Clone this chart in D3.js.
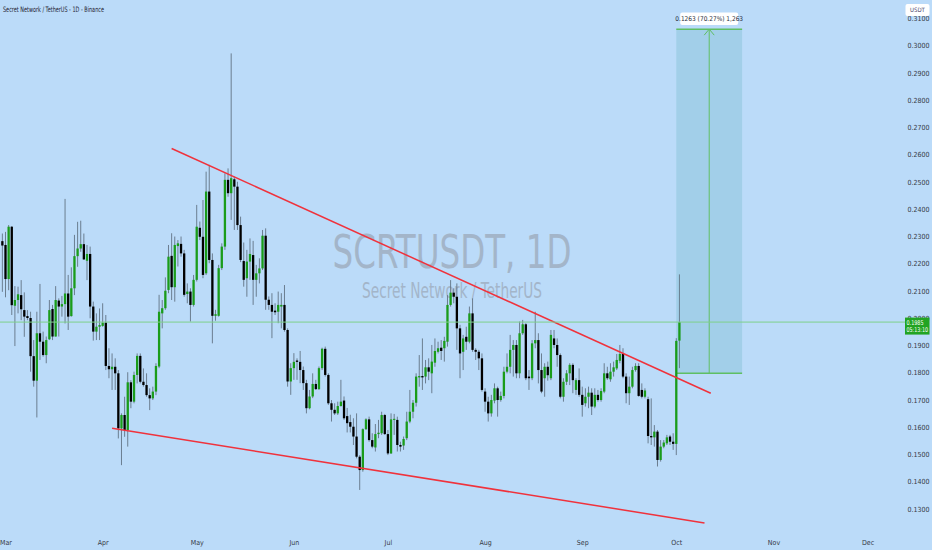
<!DOCTYPE html>
<html>
<head>
<meta charset="utf-8">
<script src="https://cdn.jsdelivr.net/npm/d3@7"></script>
<style>
  body { margin: 0; background: #bbdbf9; }
  svg { display: block; font-family: "Liberation Sans Narrow", "DejaVu Sans Condensed", "Liberation Sans", sans-serif; }
</style>
</head>
<body>
<svg id="chart" width="932" height="550"></svg>
<script>
// daily candles, first one is Feb 28
const firstDay = "2025-02-28";

const opens = [
  0.2282, 0.2268, 0.2143, 0.2335, 0.2045, 0.2066, 0.2084, 0.2029, 0.2007, 0.2000,
  0.1860, 0.1770, 0.1944, 0.1913, 0.1864, 0.1922, 0.2033, 0.1932, 0.2064, 0.2042,
  0.2051, 0.2090, 0.2007, 0.2109, 0.2227, 0.2255, 0.2271, 0.2210, 0.2235, 0.2042,
  0.1950, 0.1968, 0.1971, 0.1983, 0.1824, 0.1812, 0.1821, 0.1797, 0.1595, 0.1644,
  0.1589, 0.1764, 0.1693, 0.1791, 0.1861, 0.1766, 0.1754, 0.1717, 0.1705, 0.1730,
  0.1822, 0.2017, 0.2036, 0.2103, 0.2228, 0.2113, 0.2264, 0.2272, 0.2237, 0.2088,
  0.2097, 0.2048, 0.2140, 0.2331, 0.2298, 0.2164, 0.2464, 0.2213, 0.2008, 0.2008,
  0.2183, 0.2262, 0.2507, 0.2458, 0.2509, 0.2482, 0.2341, 0.2209, 0.2146, 0.2207,
  0.2231, 0.2140, 0.2164, 0.2182, 0.2302, 0.2067, 0.2048, 0.2027, 0.2023, 0.2042,
  0.2048, 0.1956, 0.1767, 0.1816, 0.1844, 0.1839, 0.1809, 0.1761, 0.1669, 0.1712,
  0.1758, 0.1739, 0.1816, 0.1887, 0.1791, 0.1687, 0.1663, 0.1650, 0.1677, 0.1697,
  0.1640, 0.1618, 0.1601, 0.1565, 0.1491, 0.1442, 0.1592, 0.1628, 0.1552, 0.1525,
  0.1574, 0.1577, 0.1644, 0.1574, 0.1503, 0.1626, 0.1626, 0.1534, 0.1532, 0.1559,
  0.1620, 0.1656, 0.1689, 0.1782, 0.1787, 0.1785, 0.1819, 0.1797, 0.1836, 0.1876,
  0.1891, 0.1889, 0.1913, 0.2048, 0.2093, 0.2078, 0.1962, 0.1876, 0.1931, 0.1913,
  0.2017, 0.1883, 0.1876, 0.1852, 0.1730, 0.1693, 0.1650, 0.1697, 0.1742, 0.1699,
  0.1714, 0.1803, 0.1821, 0.1883, 0.1901, 0.1797, 0.1944, 0.1977, 0.1785, 0.1779,
  0.1907, 0.1919, 0.1809, 0.1779, 0.1821, 0.1779, 0.1925, 0.1901, 0.1864, 0.1711,
  0.1766, 0.1797, 0.1828, 0.1736, 0.1772, 0.1718, 0.1687, 0.1711, 0.1726, 0.1675,
  0.1718, 0.1699, 0.1730, 0.1797, 0.1775, 0.1803, 0.1815, 0.1843, 0.1868, 0.1785,
  0.1724, 0.1748, 0.1809, 0.1824, 0.1736, 0.1711, 0.1702, 0.1567, 0.1562, 0.1583,
  0.1479, 0.1528, 0.1540, 0.1565, 0.1546, 0.1538, 0.1917
];
const highs = [
  0.2310, 0.2316, 0.2341, 0.2337, 0.2117, 0.2115, 0.2139, 0.2094, 0.2029, 0.2023,
  0.1919, 0.2023, 0.2125, 0.1950, 0.1932, 0.2066, 0.2048, 0.2117, 0.2072, 0.2081,
  0.2437, 0.2158, 0.2186, 0.2305, 0.2353, 0.2357, 0.2310, 0.2268, 0.2262, 0.2060,
  0.2017, 0.2035, 0.2054, 0.2011, 0.1889, 0.1870, 0.1852, 0.1809, 0.1650, 0.1711,
  0.1801, 0.1772, 0.1803, 0.1870, 0.1870, 0.1815, 0.1797, 0.1742, 0.1748, 0.1834,
  0.2085, 0.2066, 0.2149, 0.2268, 0.2311, 0.2299, 0.2286, 0.2299, 0.2250, 0.2127,
  0.2109, 0.2158, 0.2415, 0.2354, 0.2433, 0.2537, 0.2562, 0.2237, 0.2030, 0.2195,
  0.2274, 0.2531, 0.2549, 0.2971, 0.2519, 0.2500, 0.2372, 0.2277, 0.2250, 0.2292,
  0.2283, 0.2195, 0.2219, 0.2323, 0.2329, 0.2079, 0.2091, 0.2054, 0.2097, 0.2091,
  0.2121, 0.1962, 0.1834, 0.1871, 0.1852, 0.1879, 0.1822, 0.1773, 0.1736, 0.1797,
  0.1773, 0.1822, 0.1891, 0.1895, 0.1797, 0.1699, 0.1687, 0.1693, 0.1773, 0.1712,
  0.1670, 0.1645, 0.1632, 0.1650, 0.1497, 0.1595, 0.1632, 0.1638, 0.1577, 0.1611,
  0.1626, 0.1656, 0.1648, 0.1589, 0.1650, 0.1648, 0.1638, 0.1546, 0.1565, 0.1656,
  0.1736, 0.1699, 0.1797, 0.1864, 0.1925, 0.1846, 0.1852, 0.1901, 0.1925, 0.1913,
  0.1919, 0.1931, 0.2084, 0.2139, 0.2109, 0.2127, 0.1975, 0.1938, 0.1968, 0.2042,
  0.2072, 0.1889, 0.1883, 0.1870, 0.1742, 0.1711, 0.1718, 0.1760, 0.1748, 0.1730,
  0.1821, 0.1870, 0.1938, 0.1919, 0.1919, 0.1987, 0.1993, 0.1981, 0.1809, 0.1919,
  0.2023, 0.1944, 0.1870, 0.1834, 0.1840, 0.1956, 0.1956, 0.1925, 0.1870, 0.1779,
  0.1809, 0.1834, 0.1834, 0.1779, 0.1815, 0.1748, 0.1742, 0.1748, 0.1742, 0.1742,
  0.1736, 0.1742, 0.1834, 0.1821, 0.1834, 0.1840, 0.1868, 0.1901, 0.1889, 0.1797,
  0.1785, 0.1821, 0.1834, 0.1834, 0.1760, 0.1742, 0.1711, 0.1705, 0.1607, 0.1589,
  0.1552, 0.1552, 0.1571, 0.1571, 0.1577, 0.1926, 0.2160
];
const lows = [
  0.2096, 0.2076, 0.2102, 0.2011, 0.1897, 0.2017, 0.1992, 0.1931, 0.1992, 0.1803,
  0.1748, 0.1635, 0.1846, 0.1858, 0.1834, 0.1919, 0.1919, 0.1932, 0.1932, 0.2005,
  0.1980, 0.1956, 0.2005, 0.2084, 0.2188, 0.2243, 0.2213, 0.2139, 0.1999, 0.1917,
  0.1919, 0.1919, 0.1968, 0.1809, 0.1779, 0.1736, 0.1736, 0.1558, 0.1460, 0.1564,
  0.1528, 0.1669, 0.1687, 0.1760, 0.1760, 0.1748, 0.1711, 0.1662, 0.1699, 0.1717,
  0.1816, 0.1962, 0.2030, 0.2091, 0.2066, 0.2060, 0.2189, 0.2225, 0.2078, 0.2054,
  0.1987, 0.2042, 0.2134, 0.2286, 0.2146, 0.2158, 0.2201, 0.1907, 0.1990, 0.2005,
  0.2176, 0.2250, 0.2445, 0.2360, 0.2323, 0.2323, 0.2205, 0.2115, 0.2078, 0.2140,
  0.2048, 0.2078, 0.2127, 0.2176, 0.2030, 0.2030, 0.1926, 0.2011, 0.1981, 0.1962,
  0.1950, 0.1748, 0.1718, 0.1773, 0.1773, 0.1761, 0.1736, 0.1650, 0.1665, 0.1706,
  0.1736, 0.1736, 0.1809, 0.1785, 0.1681, 0.1620, 0.1644, 0.1644, 0.1675, 0.1626,
  0.1580, 0.1580, 0.1534, 0.1485, 0.1369, 0.1436, 0.1589, 0.1546, 0.1522, 0.1510,
  0.1559, 0.1571, 0.1571, 0.1497, 0.1501, 0.1571, 0.1510, 0.1510, 0.1516, 0.1552,
  0.1614, 0.1632, 0.1675, 0.1748, 0.1736, 0.1760, 0.1772, 0.1724, 0.1821, 0.1870,
  0.1846, 0.1840, 0.1895, 0.2042, 0.2054, 0.1883, 0.1779, 0.1809, 0.1883, 0.1907,
  0.1876, 0.1846, 0.1809, 0.1730, 0.1656, 0.1620, 0.1638, 0.1687, 0.1638, 0.1693,
  0.1705, 0.1797, 0.1797, 0.1785, 0.1779, 0.1779, 0.1938, 0.1772, 0.1736, 0.1772,
  0.1889, 0.1760, 0.1724, 0.1711, 0.1770, 0.1772, 0.1889, 0.1821, 0.1705, 0.1693,
  0.1754, 0.1754, 0.1724, 0.1718, 0.1711, 0.1638, 0.1675, 0.1669, 0.1644, 0.1669,
  0.1693, 0.1693, 0.1724, 0.1773, 0.1766, 0.1785, 0.1809, 0.1834, 0.1779, 0.1687,
  0.1681, 0.1742, 0.1803, 0.1711, 0.1705, 0.1705, 0.1540, 0.1534, 0.1528, 0.1455,
  0.1473, 0.1522, 0.1534, 0.1534, 0.1516, 0.1497, 0.1816
];
const closes = [
  0.2266, 0.2143, 0.2335, 0.2047, 0.2066, 0.2087, 0.2032, 0.2005, 0.2000, 0.1860,
  0.1770, 0.1944, 0.1913, 0.1864, 0.1919, 0.2029, 0.1932, 0.2066, 0.2042, 0.2051,
  0.2090, 0.2005, 0.2109, 0.2227, 0.2255, 0.2271, 0.2215, 0.2235, 0.2042, 0.1950,
  0.1968, 0.1974, 0.1983, 0.1824, 0.1812, 0.1821, 0.1797, 0.1595, 0.1644, 0.1589,
  0.1764, 0.1693, 0.1791, 0.1861, 0.1766, 0.1754, 0.1717, 0.1705, 0.1730, 0.1824,
  0.2023, 0.2036, 0.2100, 0.2225, 0.2113, 0.2268, 0.2274, 0.2237, 0.2085, 0.2097,
  0.2048, 0.2140, 0.2335, 0.2298, 0.2158, 0.2464, 0.2213, 0.2008, 0.2014, 0.2183,
  0.2262, 0.2507, 0.2458, 0.2513, 0.2482, 0.2341, 0.2213, 0.2140, 0.2207, 0.2235,
  0.2140, 0.2164, 0.2182, 0.2302, 0.2067, 0.2048, 0.2023, 0.2021, 0.2048, 0.2048,
  0.1956, 0.1767, 0.1816, 0.1839, 0.1839, 0.1809, 0.1761, 0.1669, 0.1712, 0.1758,
  0.1739, 0.1816, 0.1887, 0.1791, 0.1687, 0.1663, 0.1650, 0.1677, 0.1693, 0.1632,
  0.1614, 0.1601, 0.1565, 0.1491, 0.1442, 0.1592, 0.1628, 0.1552, 0.1528, 0.1574,
  0.1579, 0.1644, 0.1574, 0.1503, 0.1628, 0.1630, 0.1534, 0.1528, 0.1556, 0.1620,
  0.1656, 0.1689, 0.1785, 0.1787, 0.1782, 0.1819, 0.1803, 0.1840, 0.1879, 0.1889,
  0.1879, 0.1916, 0.2048, 0.2093, 0.2078, 0.1962, 0.1870, 0.1925, 0.1913, 0.2017,
  0.1883, 0.1876, 0.1852, 0.1736, 0.1693, 0.1650, 0.1699, 0.1742, 0.1699, 0.1714,
  0.1803, 0.1821, 0.1883, 0.1901, 0.1797, 0.1944, 0.1977, 0.1779, 0.1779, 0.1907,
  0.1919, 0.1809, 0.1730, 0.1821, 0.1790, 0.1938, 0.1901, 0.1864, 0.1711, 0.1766,
  0.1797, 0.1828, 0.1772, 0.1772, 0.1718, 0.1681, 0.1711, 0.1726, 0.1675, 0.1718,
  0.1699, 0.1732, 0.1797, 0.1779, 0.1803, 0.1819, 0.1846, 0.1868, 0.1785, 0.1724,
  0.1748, 0.1809, 0.1824, 0.1714, 0.1711, 0.1734, 0.1567, 0.1562, 0.1583, 0.1479,
  0.1528, 0.1543, 0.1562, 0.1546, 0.1538, 0.1916, 0.1985
];

const monthTicks = ["2025-03-01", "2025-04-01", "2025-05-01", "2025-06-01", "2025-07-01",
  "2025-08-01", "2025-09-01", "2025-10-01", "2025-11-01", "2025-12-01"];
const priceTicks = [0.13, 0.14, 0.15, 0.16, 0.17, 0.18, 0.19, 0.20, 0.21, 0.22,
  0.23, 0.24, 0.25, 0.26, 0.27, 0.28, 0.29, 0.30, 0.31];

const lastPrice = 0.1985;
const countdown = "05:13:10";

const upperTrendDates = ["2025-04-23", "2025-10-12"];
const upperTrendPrices = [0.2622, 0.1724];
const lowerTrendDates = ["2025-04-04", "2025-10-10"];
const lowerTrendPrices = [0.1595, 0.1248];

const targetDates = ["2025-10-01", "2025-10-22"];
const targetPrices = [0.1797, 0.3060];
const targetLabel = "0.1263 (70.27%) 1,263";

const title = "Secret Network / TetherUS - 1D - Binance";
const symbol = "SCRTUSDT, 1D";
const pairName = "Secret Network / TetherUS";

const parse = d3.utcParse("%Y-%m-%d");
const start = parse(firstDay);

const candles = opens.map((o, i) => ({
  date: d3.utcDay.offset(start, i),
  open: o, high: highs[i], low: lows[i], close: closes[i]
}));

const svg = d3.select("#chart");

const x = d3.scaleUtc()
  .domain([parse("2025-03-01"), parse("2025-12-01")])
  .range([5.5, 867.5]);

const y = d3.scaleLinear()
  .domain([0.13, 0.30])
  .range([508.75, 45.5]);

svg.append("rect")
  .attr("width", 932).attr("height", 550)
  .attr("fill", "#bbdbf9");

// watermark
svg.append("text")
  .attr("x", 452).attr("y", 268)
  .attr("text-anchor", "middle")
  .attr("font-size", 46)
  .attr("textLength", 239).attr("lengthAdjust", "spacingAndGlyphs")
  .attr("fill", "#a3b5c9")
  .text(symbol);

svg.append("text")
  .attr("x", 452).attr("y", 298)
  .attr("text-anchor", "middle")
  .attr("font-size", 21)
  .attr("textLength", 180).attr("lengthAdjust", "spacingAndGlyphs")
  .attr("fill", "#a3b5c9")
  .text(pairName);

// long position box
const bx0 = x(parse(targetDates[0])), bx1 = x(parse(targetDates[1]));
const byTop = y(targetPrices[1]), byBot = y(targetPrices[0]);
const bxMid = (bx0 + bx1) / 2;

svg.append("rect")
  .attr("x", bx0).attr("y", byTop)
  .attr("width", bx1 - bx0).attr("height", byBot - byTop)
  .attr("fill", "#a2cfe9");

[byTop, byBot].forEach(yy => {
  svg.append("line")
    .attr("x1", bx0).attr("x2", bx1)
    .attr("y1", yy).attr("y2", yy)
    .attr("stroke", "#5fbf63").attr("stroke-width", 1.5);
});

svg.append("line")
  .attr("x1", bxMid).attr("x2", bxMid)
  .attr("y1", byBot).attr("y2", byTop)
  .attr("stroke", "#5fbf63").attr("stroke-width", 1);

svg.append("path")
  .attr("d", `M${bxMid - 5},${byTop + 6}L${bxMid},${byTop}L${bxMid + 5},${byTop + 6}`)
  .attr("fill", "none")
  .attr("stroke", "#5fbf63").attr("stroke-width", 1);

svg.append("rect")
  .attr("x", bxMid - 29).attr("y", 12.5)
  .attr("width", 58).attr("height", 12.5)
  .attr("rx", 2)
  .attr("fill", "#ffffff");

svg.append("text")
  .attr("x", bxMid).attr("y", 21.3)
  .attr("text-anchor", "middle")
  .attr("font-size", 6.5)
  .attr("fill", "#2a2e39")
  .text(targetLabel);

// candles
const candleG = svg.append("g");

candleG.selectAll("line")
  .data(candles)
  .join("line")
  .attr("x1", d => x(d.date)).attr("x2", d => x(d.date))
  .attr("y1", d => y(d.high)).attr("y2", d => y(d.low))
  .attr("stroke", "#5d6d7e")
  .attr("stroke-opacity", 0.85)
  .attr("stroke-width", 1);

candleG.selectAll("rect")
  .data(candles)
  .join("rect")
  .attr("x", d => x(d.date) - 1.15)
  .attr("width", 2.3)
  .attr("y", d => y(Math.max(d.open, d.close)))
  .attr("height", d => Math.max(0.8, Math.abs(y(d.open) - y(d.close))))
  .attr("fill", d => d.close >= d.open ? "#1a9c1a" : "#000000");

// trend lines
const trendLine = d3.line()
  .x(d => x(parse(d[0])))
  .y(d => y(d[1]));

[[upperTrendDates, upperTrendPrices], [lowerTrendDates, lowerTrendPrices]].forEach(([ds, ps]) => {
  svg.append("path")
    .datum(d3.zip(ds, ps))
    .attr("fill", "none")
    .attr("stroke", "#f0323c")
    .attr("stroke-width", 1.5)
    .attr("d", trendLine);
});

// last price line
svg.append("line")
  .attr("x1", 0).attr("x2", 905)
  .attr("y1", y(lastPrice)).attr("y2", y(lastPrice))
  .attr("stroke", "#7fd08a").attr("stroke-width", 1);

// axes
const yAxis = svg.append("g")
  .attr("transform", "translate(907.5,0)")
  .call(d3.axisRight(y)
    .tickValues(priceTicks)
    .tickFormat(d3.format(".4f"))
    .tickSize(0).tickPadding(0));
yAxis.select(".domain").remove();
yAxis.attr("font-family", null).attr("font-size", 7);
yAxis.selectAll("text").attr("fill", "#363a45");

const xAxis = svg.append("g")
  .attr("transform", "translate(0,537)")
  .call(d3.axisBottom(x)
    .tickValues(monthTicks.map(parse))
    .tickFormat(d3.utcFormat("%b"))
    .tickSize(0).tickPadding(3));
xAxis.select(".domain").remove();
xAxis.attr("font-family", null).attr("font-size", 7);
xAxis.selectAll("text").attr("fill", "#363a45");

// USDT tag
svg.append("rect")
  .attr("x", 905.5).attr("y", 4)
  .attr("width", 24).attr("height", 12)
  .attr("rx", 2)
  .attr("fill", "#ffffff");
svg.append("text")
  .attr("x", 917.5).attr("y", 12.3)
  .attr("text-anchor", "middle")
  .attr("font-size", 6)
  .attr("fill", "#4b3f6b")
  .text("USDT");

// last price tag
const py = y(lastPrice);
svg.append("rect")
  .attr("x", 905).attr("y", py - 4.5)
  .attr("width", 24.5).attr("height", 17)
  .attr("fill", "#22a422");
svg.append("text")
  .attr("x", 906.5).attr("y", py + 2.5)
  .attr("font-size", 6.5)
  .attr("textLength", 17).attr("lengthAdjust", "spacingAndGlyphs")
  .attr("fill", "#ffffff")
  .text(d3.format(".4f")(lastPrice));
svg.append("text")
  .attr("x", 906.5).attr("y", py + 10)
  .attr("font-size", 6.5)
  .attr("textLength", 21.5).attr("lengthAdjust", "spacingAndGlyphs")
  .attr("fill", "#ffffff")
  .text(countdown);

// title
svg.append("text")
  .attr("x", 3).attr("y", 11.5)
  .attr("font-size", 7.5)
  .attr("textLength", 101).attr("lengthAdjust", "spacingAndGlyphs")
  .attr("fill", "#1f2230")
  .text(title);
</script>
</body>
</html>
